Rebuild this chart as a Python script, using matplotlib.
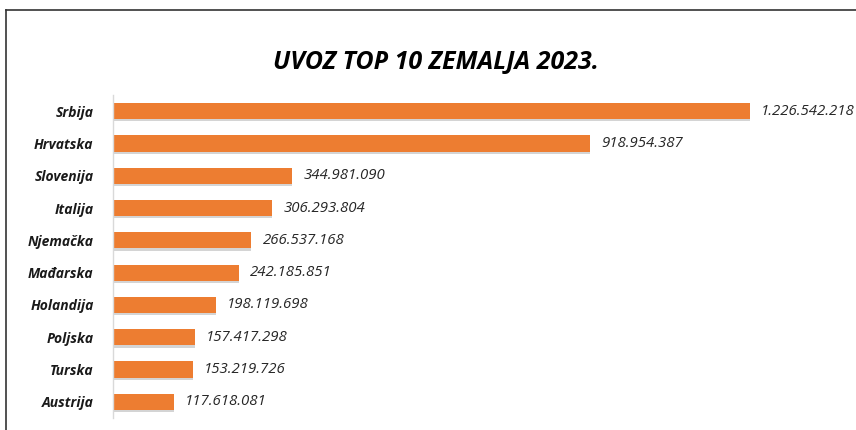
import matplotlib
matplotlib.use("Agg")
import matplotlib.pyplot as plt
from matplotlib.lines import Line2D

countries = ["Srbija", "Hrvatska", "Slovenija", "Italija", "Njemačka",
             "Mađarska", "Holandija", "Poljska", "Turska", "Austrija"]
values = [1226542218, 918954387, 344981090, 306293804, 266537168,
          242185851, 198119698, 157417298, 153219726, 117618081]
value_labels = ["1.226.542.218", "918.954.387", "344.981.090", "306.293.804",
                "266.537.168", "242.185.851", "198.119.698", "157.417.298",
                "153.219.726", "117.618.081"]
title = "UVOZ TOP 10 ZEMALJA 2023."

plt.rcParams['font.family'] = ['Open Sans', 'DejaVu Sans']

fig = plt.figure(figsize=(8.56, 4.30), dpi=100)
ax = fig.add_axes([113/856, 1-418/430, 1-113/856, 323/430])

ypos = list(range(len(countries)))
# subtle shadow
ax.barh([y + 0.07 for y in ypos], values, height=0.5, color="#a0a0a0", alpha=0.45, zorder=1)
ax.barh(ypos, values, height=0.5, color="#ED7D31", zorder=2)

for y, v, lab in zip(ypos, values, value_labels):
    ax.annotate(lab, xy=(v, y), xytext=(8, 0), textcoords="offset points",
                ha="left", va="center", fontsize=10.8, style="italic", color="#262626")

ax.set_ylim(len(countries) - 0.5, -0.5)
ax.set_xlim(0, values[0] * 743 / 637)
ax.set_yticks(ypos)
ax.set_yticklabels(countries, fontsize=10, fontweight="bold", style="italic", color="#1a1a1a")
ax.tick_params(axis="y", length=0, pad=14)
ax.set_xticks([])
for s in ["top", "right", "bottom"]:
    ax.spines[s].set_visible(False)
ax.spines["left"].set_color("#d9d9d9")
ax.spines["left"].set_linewidth(1)

fig.text(436/856, 1-62/430, title, ha="center", va="center", fontsize=18,
         fontweight="bold", style="italic", color="#000000")

# outer frame lines (left and top)
fig.add_artist(Line2D([6/856, 6/856], [0, 1-10/430], transform=fig.transFigure, color="#333333", lw=1.2))
fig.add_artist(Line2D([6/856, 1], [1-10/430, 1-10/430], transform=fig.transFigure, color="#333333", lw=1.2))

fig.savefig("out.png", dpi=100)
